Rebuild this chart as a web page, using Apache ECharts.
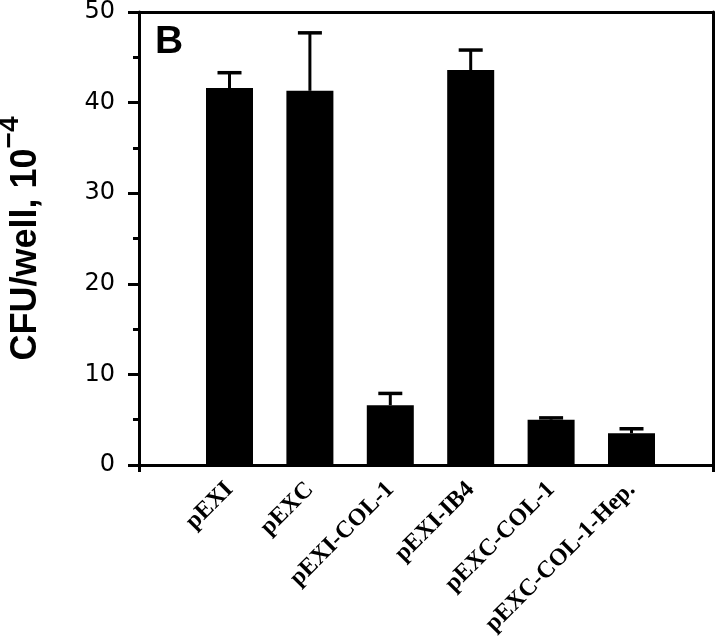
<!DOCTYPE html>
<html>
<head>
<meta charset="utf-8">
<script src="https://cdn.jsdelivr.net/npm/echarts@6/dist/echarts.min.js"></script>
<style>html,body{margin:0;padding:0;background:#fff;}#c{width:720px;height:638px;}</style>
</head>
<body>
<div id="c"></div>
<script>
var categories = ['pEXI', 'pEXC', 'pEXI-COL-1', 'pEXI-IB4', 'pEXC-COL-1', 'pEXC-COL-1-Hep.'];
var means = [41.6, 41.3, 6.6, 43.6, 5.0, 3.5];
var upper = [43.3, 47.7, 7.9, 45.8, 5.2, 4.0];
var yTicks = [0, 10, 20, 30, 40, 50];

var chart = echarts.init(document.getElementById('c'));
var errData = categories.map(function (c, i) { return [i, means[i], upper[i]]; });

var option = {
  backgroundColor: '#fff',
  animation: false,
  title: {
    text: 'B', left: 150, top: 18,
    textStyle: { fontFamily: 'Liberation Sans', fontWeight: 'bold', fontSize: 39, color: '#000' }
  },
  grid: [
    { left: 139, right: 7, top: 12, bottom: 173, containLabel: false, outerBoundsMode: 'none' },
    { left: 189.3, right: 48.3, top: 12, bottom: 173, containLabel: false, outerBoundsMode: 'none' }
  ],
  xAxis: [
    { gridIndex: 0, type: 'value', min: 0, max: 1, interval: 1, position: 'bottom',
      axisLine: { show: true, lineStyle: { color: '#000', width: 3 } },
      axisTick: { show: true, length: 7, lineStyle: { color: '#000', width: 3 } },
      axisLabel: { show: false }, splitLine: { show: false } },
    { gridIndex: 0, type: 'value', min: 0, max: 1, interval: 1, position: 'top',
      axisLine: { show: true, onZero: false, lineStyle: { color: '#000', width: 3 } },
      axisTick: { show: false }, axisLabel: { show: false }, splitLine: { show: false } },
    { gridIndex: 1, type: 'category', data: categories,
      axisLine: { show: false }, axisTick: { show: false },
      axisLabel: { rotate: 45, margin: 21, interval: 0, color: '#000',
        fontFamily: 'Liberation Serif', fontWeight: 'bold', fontSize: 24 } }
  ],
  yAxis: [
    { gridIndex: 0, type: 'value', min: yTicks[0], max: yTicks[yTicks.length - 1], interval: 10,
      name: '{a|CFU/well, 10}{s|\u22124}', nameLocation: 'middle', nameGap: 95, nameRotate: 90,
      nameTextStyle: {
        rich: {
          a: { fontFamily: 'Liberation Sans', fontWeight: 'bold', fontSize: 36, color: '#000', lineHeight: 48, verticalAlign: 'bottom' },
          s: { fontFamily: 'Liberation Sans', fontWeight: 'bold', fontSize: 28, color: '#000', lineHeight: 28, verticalAlign: 'top' }
        }
      },
      axisLine: { show: true, onZero: false, lineStyle: { color: '#000', width: 3 } },
      axisTick: { show: true, length: 11, lineStyle: { color: '#000', width: 3 } },
      minorTick: { show: true, splitNumber: 2, length: 6, lineStyle: { color: '#000', width: 3 } },
      axisLabel: { margin: 24, color: '#000', fontFamily: 'DejaVu Sans', fontSize: 24 },
      splitLine: { show: false }, minorSplitLine: { show: false } },
    { gridIndex: 0, type: 'value', min: 0, max: 50, position: 'right',
      axisLine: { show: true, onZero: false, lineStyle: { color: '#000', width: 3 } },
      axisTick: { show: false }, axisLabel: { show: false }, splitLine: { show: false } },
    { gridIndex: 1, type: 'value', min: 0, max: 50, show: false, splitLine: { show: false } }
  ],
  series: [
    { type: 'bar', xAxisIndex: 2, yAxisIndex: 2, data: means, barWidth: 47,
      itemStyle: { color: '#000' } },
    { type: 'custom', xAxisIndex: 2, yAxisIndex: 2, data: errData, z: 3,
      renderItem: function (params, api) {
        var x = api.value(0), lo = api.value(1), hi = api.value(2);
        var p1 = api.coord([x, lo]);
        var p2 = api.coord([x, hi]);
        var hw = 12;
        return { type: 'group', children: [
          { type: 'line', shape: { x1: p1[0], y1: p1[1], x2: p2[0], y2: p2[1] }, style: { stroke: '#000', lineWidth: 3 } },
          { type: 'line', shape: { x1: p2[0] - hw, y1: p2[1], x2: p2[0] + hw, y2: p2[1] }, style: { stroke: '#000', lineWidth: 3.5 } }
        ] };
      } }
  ]
};
chart.setOption(option);
</script>
</body>
</html>
